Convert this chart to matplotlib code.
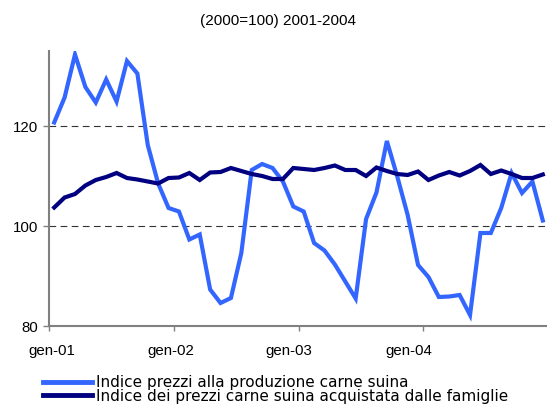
import matplotlib
matplotlib.use("Agg")
import matplotlib.pyplot as plt
from matplotlib.lines import Line2D
import numpy as np

# Monthly indices, January 2001 - December 2004 (2000 = 100)
months = [f"{m:02d}-{y:02d}" for y in range(1, 5) for m in range(1, 13)]

produzione = [
    120.7, 125.7, 134.3, 127.8, 124.7, 129.3, 124.9, 133.0, 130.5, 116.2, 108.5, 103.6,
    102.9, 97.3, 98.3, 87.3, 84.6, 85.6, 94.6, 111.2, 112.4, 111.6, 108.9, 103.9,
    102.9, 96.6, 95.1, 92.3, 88.9, 85.5, 101.4, 106.7, 117.0, 109.9, 102.2, 92.2,
    89.8, 85.8, 85.9, 86.2, 82.2, 98.6, 98.6, 103.6, 110.6, 106.6, 108.9, 101.1,
]

famiglie = [
    103.7, 105.7, 106.4, 108.1, 109.2, 109.8, 110.6, 109.6, 109.3, 108.9, 108.5, 109.6,
    109.7, 110.6, 109.2, 110.7, 110.8, 111.6, 111.0, 110.4, 110.0, 109.4, 109.4, 111.6,
    111.4, 111.2, 111.6, 112.1, 111.2, 111.2, 110.0, 111.7, 111.0, 110.4, 110.2, 110.9,
    109.2, 110.1, 110.8, 110.1, 111.0, 112.2, 110.4, 111.1, 110.4, 109.6, 109.6, 110.3,
]

year_labels = ["gen-01", "gen-02", "gen-03", "gen-04"]
y_ticks = [80, 100, 120]

series_names = [
    "Indice prezzi alla produzione carne suina",
    "Indice dei prezzi carne suina acquistata dalle famiglie",
]

LIGHT = "#3366FF"
NAVY = "#000080"
AXIS_GREY = "#808080"
SANS = ["Liberation Sans", "DejaVu Sans"]

W, H = 547, 407
fig = plt.figure(figsize=(W / 100, H / 100), dpi=100)

# plot area in pixel terms
left_px, right_px, top_px, bottom_px = 49, 548, 51, 326
ax = fig.add_axes([left_px / W, 1 - bottom_px / H,
                   (right_px - left_px) / W, (bottom_px - top_px) / H])

x = np.arange(len(months))
ax.plot(x, produzione, color=LIGHT, lw=3.0, solid_joinstyle="miter", zorder=3)
ax.plot(x, famiglie, color=NAVY, lw=3.0, solid_joinstyle="miter", zorder=4)

ax.set_xlim(-0.5, len(months) - 0.5)
ax.set_ylim(80, 135)

# y axis
ax.set_yticks(y_ticks)
ax.set_yticklabels([str(v) for v in y_ticks], fontsize=10.8, family=SANS)
ax.tick_params(axis="y", direction="out", length=4.3, width=1.0,
               color=AXIS_GREY, pad=3.5)
for v in y_ticks[1:]:
    ax.axhline(v, color="#333333", lw=0.8, dashes=(6, 4), zorder=1)

# x axis: tick marks on year boundaries, labels under each January
ax.set_xticks(np.arange(0, len(months) + 1, 12) - 0.5, minor=True)
label_pos = [-0.2, 11.25, 22.6, 34.1]
ax.set_xticks(label_pos)
ax.set_xticklabels(year_labels, fontsize=10.8, family=SANS)
ax.tick_params(axis="x", which="major", length=0, pad=13)
ax.tick_params(axis="x", which="minor", direction="out", length=3.6,
               width=1.0, color=AXIS_GREY)

for side in ("top", "right"):
    ax.spines[side].set_visible(False)
for side in ("left", "bottom"):
    ax.spines[side].set_color(AXIS_GREY)
    ax.spines[side].set_linewidth(1.5)

fig.text(278.5 / W, 1 - 20.7 / H, "(2000=100) 2001-2004",
         ha="center", va="center", fontsize=11, family=SANS)

handles = [Line2D([], [], color=LIGHT, lw=3.5),
           Line2D([], [], color=NAVY, lw=3.5)]
ax.legend(handles, series_names, loc="upper left",
          bbox_to_anchor=(43 / W, 1 - 375 / H), bbox_transform=fig.transFigure,
          frameon=False, borderpad=0, borderaxespad=0,
          handlelength=3.2, handletextpad=0.26, labelspacing=-0.08,
          prop={"family": "DejaVu Sans", "size": 11})

fig.savefig("out.png", dpi=100)
